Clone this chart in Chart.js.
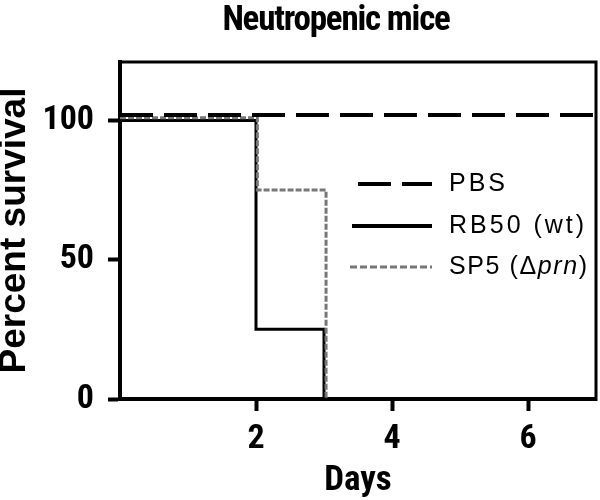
<!DOCTYPE html>
<html>
<head>
<meta charset="utf-8">
<script src="https://cdn.jsdelivr.net/npm/chart.js@4.4.1/dist/chart.umd.min.js"></script>
<style>
  html, body { margin: 0; padding: 0; background: #fff; }
  #wrap { width: 600px; height: 500px; }
</style>
</head>
<body>
<div id="wrap"><canvas id="c" width="600" height="500"></canvas></div>
<script>
// ---- data ----
const chartTitle = "Neutropenic mice";
const xAxisTitle = "Days";
const yAxisTitle = "Percent survival";
const xTickValues = [2, 4, 6];
const yTickValues = [0, 50, 100];

const pbsDays = [0, 7];
const pbsSurvival = [102, 102];

const rb50Days = [0, 2, 3];
const rb50Survival = [100, 25, 0];

const sp5Days = [0, 2.02, 3.03];
const sp5Survival = [101, 75, 0];

const legendLabels = ["PBS", "RB50 (wt)", "SP5 (\u0394prn)"];

const COND = "Roboto, 'Liberation Sans', Arial, sans-serif";
const REG = "'Liberation Sans', Arial, sans-serif";
const CW = 'bold condensed';

function pts(xs, ys) { return xs.map((x, i) => ({ x: x, y: ys[i] })); }

const boxPlugin = {
  id: 'boxAndText',
  afterDraw(chart) {
    const ctx = chart.ctx;
    const a = chart.chartArea;
    ctx.save();
    // top and right frame
    ctx.strokeStyle = '#000';
    ctx.lineWidth = 3;
    ctx.beginPath();
    ctx.moveTo(a.left - 2, a.top);
    ctx.lineTo(a.right, a.top);
    ctx.lineTo(a.right, a.bottom + 2);
    ctx.stroke();

    // title
    ctx.fillStyle = '#000';
    ctx.font = CW + " 35px " + COND;
    ctx.textAlign = 'center';
    ctx.textBaseline = 'alphabetic';
    try { ctx.letterSpacing = '-1.2px'; } catch (e) {}
    ctx.fillText(chartTitle, 336, 30);

    // legend
    const lx1 = 432, tx = 449;
    const rows = [
      { y: 184, dash: [33, 11], w: 4, c: '#000', start: 358 },
      { y: 226, dash: [], w: 4, c: '#000', start: 352 },
      { y: 267, dash: [7, 3], w: 3, c: '#777', start: 350 }
    ];
    rows.forEach((r) => {
      ctx.beginPath();
      ctx.setLineDash(r.dash);
      ctx.lineWidth = r.w;
      ctx.strokeStyle = r.c;
      ctx.moveTo(r.start, r.y);
      ctx.lineTo(lx1, r.y);
      ctx.stroke();
    });
    ctx.setLineDash([]);
    ctx.font = "25px " + REG;
    ctx.textAlign = 'left';
    ctx.textBaseline = 'middle';
    try { ctx.letterSpacing = '3px'; } catch (e) {}
    ctx.fillText(legendLabels[0], tx, rows[0].y);
    ctx.fillText(legendLabels[1], tx, rows[1].y);
    // SP5 (Δprn) with italic prn
    try { ctx.letterSpacing = '1.6px'; } catch (e) {}
    let x = tx;
    const y = rows[2].y;
    const partA = "SP5 (\u0394";
    ctx.fillText(partA, x, y);
    x += ctx.measureText(partA).width;
    ctx.font = "italic 25px " + REG;
    ctx.fillText("prn", x, y);
    x += ctx.measureText("prn").width;
    ctx.font = "25px " + REG;
    ctx.fillText(")", x, y);
    ctx.restore();
  }
};

new Chart(document.getElementById('c'), {
  type: 'scatter',
  data: {
    datasets: [
      { label: legendLabels[0], data: pts(pbsDays, pbsSurvival), showLine: true, stepped: true,
        borderColor: '#000', borderWidth: 4, borderDash: [33, 11], pointRadius: 0, fill: false },
      { label: legendLabels[2], data: pts(sp5Days, sp5Survival), showLine: true, stepped: true,
        borderColor: '#777', borderWidth: 3, borderDash: [6, 2], pointRadius: 0, fill: false },
      { label: legendLabels[1], data: pts(rb50Days, rb50Survival), showLine: true, stepped: true,
        borderColor: '#000', borderWidth: 3, pointRadius: 0, fill: false }
    ]
  },
  options: {
    responsive: false,
    animation: false,
    devicePixelRatio: 1,
    layout: { padding: { top: 62, right: 4, left: 0, bottom: 0 } },
    plugins: { legend: { display: false }, tooltip: { enabled: false }, title: { display: false } },
    scales: {
      x: {
        type: 'linear', min: 0, max: 7,
        afterBuildTicks(s) { s.ticks = xTickValues.map(v => ({ value: v })); },
        afterFit(s) { s.height = 101; },
        grid: { drawOnChartArea: false, drawTicks: true, tickLength: 12, tickWidth: 4, color: '#000' },
        border: { display: true, width: 4, color: '#000' },
        ticks: { color: '#000', font: { family: COND, size: 34, weight: CW }, padding: 8, maxRotation: 0 },
        title: { display: true, text: xAxisTitle, color: '#000', font: { family: COND, size: 35, weight: CW, lineHeight: 1.2 }, padding: { top: 0, bottom: -2 } }
      },
      y: {
        type: 'linear', min: 0, max: 121,
        afterBuildTicks(s) { s.ticks = yTickValues.map(v => ({ value: v })); },
        afterFit(s) { s.width = 120; },
        grid: { drawOnChartArea: false, drawTicks: true, tickLength: 12, tickWidth: 4, color: '#000' },
        border: { display: true, width: 4, color: '#000' },
        ticks: { color: '#000', font: { family: COND, size: 34, weight: CW }, padding: 14 },
        title: { display: true, text: yAxisTitle, color: '#000', font: { family: REG, size: 37, weight: 'bold', lineHeight: 0.8 }, padding: { top: 0, bottom: 0 } }
      }
    }
  },
  plugins: [boxPlugin]
});
</script>
</body>
</html>
